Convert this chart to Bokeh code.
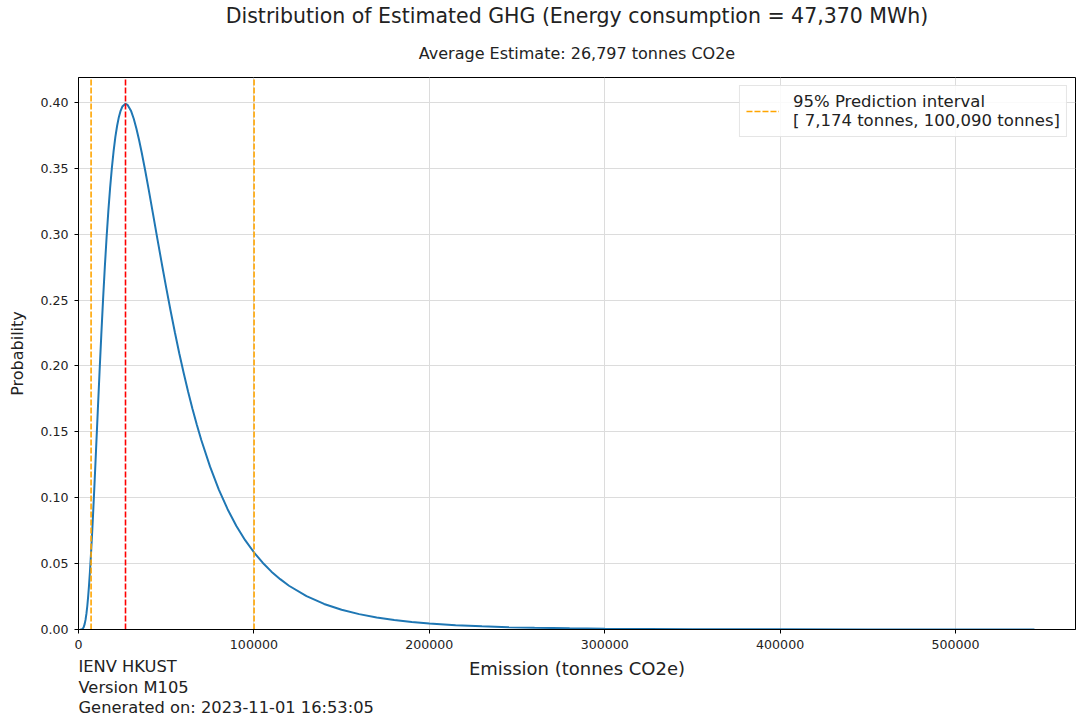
from bokeh.plotting import figure
from bokeh.models import Range1d, FixedTicker, NumeralTickFormatter, BasicTickFormatter, Title, Legend, LegendItem
from bokeh.embed import file_html
from bokeh.resources import INLINE

# ---- data ----
emission = [1000, 1500, 2000, 2500, 3000, 3500, 4000, 4500, 5000, 5500, 6000, 6500, 7000, 7500,
            8000, 8500, 9000, 9500, 10000, 11000, 12000, 13000, 14000, 15000, 16000, 17000,
            18000, 19000, 20000, 21000, 22000, 23000, 24000, 25000, 26797, 28000, 30000, 31500,
            33000, 34500, 36000, 38000, 40000, 42500, 45000, 47500, 50000, 52500, 55000, 57500,
            60000, 62500, 65000, 67500, 70000, 75000, 80000, 85000, 90000, 95000, 100000,
            105000, 110000, 115000, 120000, 130000, 140000, 150000, 160000, 170000, 180000,
            190000, 200000, 215000, 230000, 245000, 260000, 280000, 300000, 350000, 400000,
            450000, 500000, 545000]
probability = [0.0000, 0.00004, 0.00023, 0.00079, 0.00198, 0.00408, 0.00729, 0.01179, 0.01765,
               0.0249, 0.0335, 0.0434, 0.0544, 0.0664, 0.0792, 0.0928, 0.1069, 0.1214, 0.1362,
               0.1660, 0.1954, 0.2236, 0.2503, 0.2749, 0.2973, 0.3173, 0.3348, 0.3500, 0.3629,
               0.3736, 0.3821, 0.3888, 0.3936, 0.3968, 0.3989, 0.3981, 0.3934, 0.3876, 0.3802,
               0.3717, 0.3622, 0.3485, 0.3340, 0.3152, 0.2963, 0.2776, 0.2594, 0.2419, 0.2252,
               0.2093, 0.1944, 0.1804, 0.1674, 0.1552, 0.1438, 0.1236, 0.1062, 0.0913, 0.0786,
               0.0678, 0.0586, 0.0507, 0.0439, 0.0382, 0.0332, 0.0253, 0.0194, 0.01498, 0.01167,
               0.00914, 0.00721, 0.00572, 0.00457, 0.00329, 0.00240, 0.00177, 0.00132, 0.00090,
               0.00063, 0.00027, 0.00012, 0.00006, 0.00003, 0.00002]
average_estimate = 26797
interval_bounds = [7174, 100090]
x_ticks = [0, 100000, 200000, 300000, 400000, 500000]
y_ticks = [0.00, 0.05, 0.10, 0.15, 0.20, 0.25, 0.30, 0.35, 0.40]
x_max = 568400
y_max = 0.4189

FONT = "DejaVu Sans"

p = figure(width=1076, height=713, output_backend="svg", toolbar_location=None,
           x_range=Range1d(0, x_max), y_range=Range1d(0, y_max),
           min_border_left=78, min_border_right=1, min_border_top=77, min_border_bottom=84,
           title=None, background_fill_color="white", border_fill_color="white")

p.outline_line_color = "black"
p.outline_line_width = 1

# grid
for g in (p.xgrid, p.ygrid):
    g.grid_line_color = "#dcdcdc"
    g.grid_line_width = 1
p.xgrid.ticker = FixedTicker(ticks=x_ticks)
p.ygrid.ticker = FixedTicker(ticks=y_ticks)

# axes
p.xaxis.ticker = FixedTicker(ticks=x_ticks)
p.yaxis.ticker = FixedTicker(ticks=y_ticks)
p.xaxis.formatter = BasicTickFormatter(use_scientific=False)
p.yaxis.formatter = NumeralTickFormatter(format="0.00")
for ax in (p.xaxis, p.yaxis):
    ax.axis_line_color = "black"
    ax.major_tick_line_color = "black"
    ax.major_tick_out = 4
    ax.major_tick_in = 0
    ax.minor_tick_out = 0
    ax.minor_tick_in = 0
    ax.major_label_text_font = FONT
    ax.major_label_text_font_size = "12.6px"
    ax.major_label_text_color = "#222222"
    ax.axis_label_text_font = FONT
    ax.axis_label_text_font_style = "normal"
    ax.axis_label_text_color = "#222222"
p.xaxis.axis_label = "Emission (tonnes CO2e)"
p.yaxis.axis_label = "Probability"
p.xaxis.axis_label_text_font_size = "18px"
p.yaxis.axis_label_text_font_size = "16px"
p.xaxis.major_label_standoff = 6
p.yaxis.major_label_standoff = 6
p.xaxis.axis_label_standoff = 6
p.yaxis.axis_label_standoff = 10

# curve
p.line(emission, probability, line_color="#1f77b4", line_width=2)

# vertical lines
dash = "6 2"
orange = p.segment(x0=interval_bounds, y0=[0, 0], x1=interval_bounds, y1=[y_max, y_max],
                   line_color="orange", line_width=1.6, line_dash=dash)
p.segment(x0=[average_estimate], y0=[0], x1=[average_estimate], y1=[y_max],
          line_color="red", line_width=1.6, line_dash=dash)

legend = Legend(items=[LegendItem(label="95% Prediction interval\n[ 7,174 tonnes, 100,090 tonnes]",
                                  renderers=[orange])],
                location="top_right", margin=8, padding=6, spacing=0,
                label_text_font=FONT, label_text_font_size="16.5px", label_text_color="#222222",
                glyph_width=33, label_standoff=14,
                border_line_color="#cccccc", border_line_width=1,
                background_fill_color="white", background_fill_alpha=0.85)
p.add_layout(legend)

# titles
sub = Title(text="Average Estimate: 26,797 tonnes CO2e", align="center",
            text_font=FONT, text_font_size="16px", text_font_style="normal",
            text_color="#222222", standoff=29)
main = Title(text="Distribution of Estimated GHG (Energy consumption = 47,370 MWh)", align="center",
             text_font=FONT, text_font_size="20.5px", text_font_style="normal",
             text_color="#222222", standoff=0)
p.add_layout(sub, "above")
p.add_layout(main, "above")

# footer (below the x axis, overlapping the axis-label row as in the reference)
footer = Title(text="IENV HKUST\nVersion M105\nGenerated on: 2023-11-01 16:53:05", align="left",
               text_font=FONT, text_font_size="16.3px", text_font_style="normal",
               text_color="#222222", standoff=-54, text_line_height=1.1)
p.add_layout(footer, "below")

open("out.html", "w").write(file_html(p, INLINE))
